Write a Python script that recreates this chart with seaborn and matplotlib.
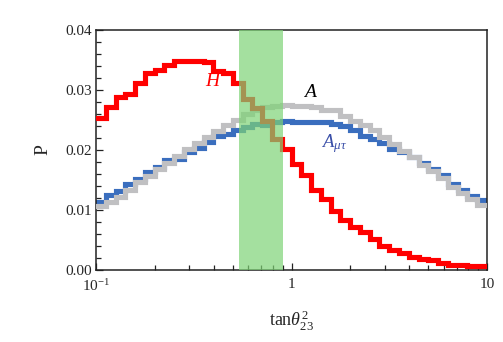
import numpy as np
import pandas as pd
import seaborn as sns
import matplotlib
matplotlib.use('Agg')
from matplotlib import pyplot as plt
from matplotlib.ticker import MultipleLocator, LogLocator, NullFormatter

# 40 log-spaced bins between 0.1 and 10
bin_edges = np.logspace(-1, 1, 41)

# H (red)
h_vals = [0.0254, 0.0271, 0.0288, 0.0294, 0.0311, 0.0329, 0.0334, 0.0342, 0.0348, 0.0348,
          0.0348, 0.0346, 0.0332, 0.0329, 0.0312, 0.0285, 0.0270, 0.0249, 0.0219, 0.0202,
          0.0176, 0.0159, 0.0134, 0.0118, 0.0098, 0.0084, 0.0071, 0.0064, 0.0051, 0.0040,
          0.0034, 0.0029, 0.0022, 0.0018, 0.0016, 0.0012, 0.0009, 0.0008, 0.0007, 0.0006]
# A (grey)
a_vals = [0.0107, 0.0114, 0.0122, 0.0133, 0.0147, 0.0157, 0.0169, 0.0178, 0.0190, 0.0201,
          0.0211, 0.0221, 0.0232, 0.0241, 0.0250, 0.0260, 0.0266, 0.0271, 0.0273, 0.0275,
          0.0274, 0.0273, 0.0272, 0.0266, 0.0266, 0.0257, 0.0249, 0.0242, 0.0233, 0.0221,
          0.0210, 0.0199, 0.0188, 0.0175, 0.0165, 0.0153, 0.0138, 0.0129, 0.0118, 0.0108]
# A_mu_tau (blue)
amt_vals = [0.0114, 0.0125, 0.0131, 0.0144, 0.0151, 0.0164, 0.0172, 0.0183, 0.0185, 0.0197,
            0.0204, 0.0214, 0.0223, 0.0227, 0.0234, 0.0239, 0.0243, 0.0242, 0.0246, 0.0248,
            0.0246, 0.0247, 0.0247, 0.0247, 0.0243, 0.0240, 0.0233, 0.0224, 0.0218, 0.0211,
            0.0202, 0.0196, 0.0189, 0.0179, 0.0168, 0.0158, 0.0143, 0.0134, 0.0123, 0.0117]

band = (0.54, 0.905)

sns.set_style('ticks')
plt.rcParams['font.family'] = ['Liberation Serif', 'DejaVu Serif']
plt.rcParams['mathtext.fontset'] = 'custom'
plt.rcParams['mathtext.rm'] = 'Liberation Serif'
plt.rcParams['mathtext.it'] = 'Liberation Serif:italic'

centers = np.sqrt(bin_edges[:-1] * bin_edges[1:])

fig = plt.figure(figsize=(5.03, 3.42), dpi=100)
ax = fig.add_axes([96 / 503, 1 - 270 / 342, 391 / 503, 240 / 342])

# blue under grey, red on top
for vals, col, z in [(amt_vals, '#3a6ebe', 2), (a_vals, '#c0c0c2', 3), (h_vals, '#ff0000', 4)]:
    df = pd.DataFrame({'x': centers, 'w': vals})
    sns.histplot(data=df, x='x', weights='w', bins=bin_edges.tolist(), element='step',
                 fill=False, color=col, linewidth=3.7, ax=ax, zorder=z,
                 solid_joinstyle='miter')

ax.set_xscale('log')
# shaded band drawn over the curves
ax.axvspan(band[0], band[1], color='#7ed376', alpha=0.7, lw=0, zorder=5)

ax.set_xlim(0.1, 10)
ax.set_ylim(0, 0.04)
ax.set_xticks([0.1, 1, 10])
ax.set_xticklabels(['$10^{-1}$', '1', '10'])
ax.xaxis.set_minor_locator(LogLocator(base=10, subs=np.arange(2, 10)))
ax.xaxis.set_minor_formatter(NullFormatter())
ax.set_yticks([0, 0.01, 0.02, 0.03, 0.04])
ax.set_yticklabels(['0.00', '0.01', '0.02', '0.03', '0.04'])
ax.yaxis.set_minor_locator(MultipleLocator(0.002))
ax.tick_params(which='both', direction='in', top=False, right=False, labelsize=11,
               color='#222222', width=0.9)
ax.tick_params(which='major', length=5)
ax.tick_params(which='minor', length=3.5)
ax.tick_params(axis='x', which='major', pad=6)
ax.tick_params(axis='y', which='major', pad=3)
for s in ax.spines.values():
    s.set_visible(True)
    s.set_linewidth(1.1)
    s.set_color('#222222')

ax.set_xlabel(r'tan$\theta_{23}^{2}$', fontsize=13, labelpad=10)
ax.set_ylabel('P', fontsize=14, labelpad=10)

ax.text(0.40, 0.0315, '$H$', color='#ff0000', fontsize=14, ha='center', va='center', zorder=6)
ax.text(1.258, 0.0296, '$A$', color='black', fontsize=14, ha='center', va='center', zorder=6)
ax.text(1.66, 0.0210, r'$A_{\mu\tau}$', color='#3a4fa8', fontsize=13.5, ha='center', va='center', zorder=6)

fig.savefig('out.png', dpi=100)
